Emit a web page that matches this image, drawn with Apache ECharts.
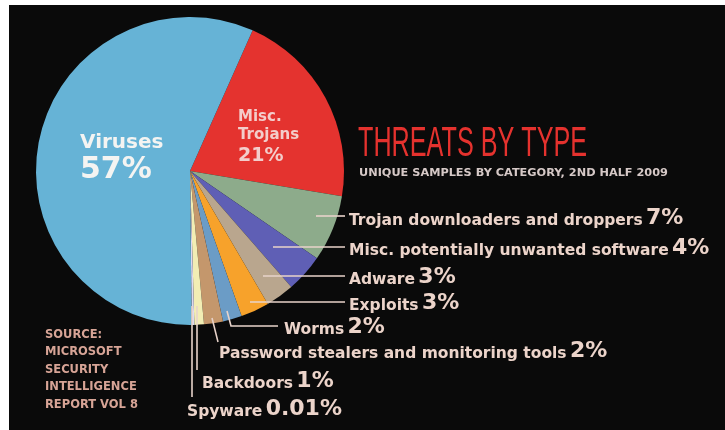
<!DOCTYPE html>
<html>
<head>
<meta charset="utf-8">
<script src="https://cdn.jsdelivr.net/npm/echarts@6/dist/echarts.min.js"></script>
<style>
html,body{margin:0;padding:0;background:#ffffff;}
#chart{width:725px;height:430px;}
</style>
</head>
<body>
<div id="chart"></div>
<script>
// ---- data ----
const categories = ['Misc. Trojans', 'Trojan downloaders and droppers', 'Misc. potentially unwanted software',
  'Adware', 'Exploits', 'Worms', 'Password stealers and monitoring tools', 'Backdoors', 'Spyware', 'Viruses'];
const shares = [21, 7, 4, 3, 3, 2, 2, 1, 0.01, 57];
const titleText = 'THREATS BY TYPE';
const subtitleText = 'UNIQUE SAMPLES BY CATEGORY, 2ND HALF 2009';
const sourceLines = ['SOURCE:', 'MICROSOFT', 'SECURITY', 'INTELLIGENCE', 'REPORT VOL 8'];

// ---- styles / layout ----
const sliceColors = ['#e4332f', '#8dab8b', '#5f5fb5', '#b9a68e', '#f7a22b', '#6b9cc6', '#c4976c', '#f2edb4', '#ddd9ef', '#66b3d6'];
const FONT = 'DejaVu Sans';
const labelColor = '#ecd4ca';
const lineColor = '#e8d3ca';
// label anchor [x, y] and leader line points for the outside labels (annotation layout)
const spots = {
  1: { x: 349, y: 216, line: [[316, 216], [345, 216]] },
  2: { x: 349, y: 246, line: [[273, 247], [345, 247]] },
  3: { x: 349, y: 275, line: [[263, 276], [345, 276]] },
  4: { x: 349, y: 301, line: [[250, 302], [345, 302]] },
  5: { x: 284, y: 325, line: [[227, 311], [231, 326], [278, 326]] },
  6: { x: 219, y: 349, line: [[212, 318], [218, 342]] },
  7: { x: 202, y: 379, line: [[197, 306], [197, 370]] },
  8: { x: 187, y: 407, line: [[192, 306], [192, 397]] },
  0: { x: 238, y: 138, inside: true },
  9: { x: 80, y: 158, inside: true }
};

function buildData(forLabels) {
  return categories.map((name, i) => {
    const item = { name: name, value: shares[i],
      itemStyle: { color: forLabels ? 'rgba(0,0,0,0)' : sliceColors[i] } };
    if (!forLabels) return item;
    if (i === 0) {
      item.label = {
        position: 'inside',
        formatter: function () { return '{a|Misc.}\n{a|Trojans}\n{b|' + shares[0] + '%}'; },
        rich: {
          a: { fontFamily: FONT, fontWeight: 'bold', fontSize: 15, color: '#f3cdcb', lineHeight: 18 },
          b: { fontFamily: FONT, fontWeight: 'bold', fontSize: 19, color: '#f3cdcb', lineHeight: 24 }
        }
      };
      item.labelLine = { show: false };
    } else if (i === 9) {
      item.label = {
        position: 'inside',
        formatter: function (p) { return '{a|' + p.name + '}\n{b|' + p.value + '%}'; },
        rich: {
          a: { fontFamily: FONT, fontWeight: 'bold', fontSize: 20, color: '#f4f4f2', lineHeight: 24 },
          b: { fontFamily: FONT, fontWeight: 'bold', fontSize: 30, color: '#f4f4f2', lineHeight: 30 }
        }
      };
      item.labelLine = { show: false };
    }
    return item;
  });
}

const sourceGraphics = sourceLines.map((t, i) => ({
  type: 'text', x: 45, y: 335 + i * 17.5,
  style: { text: t, fill: '#d7a496', font: 'bold 11.5px "' + FONT + '"', textAlign: 'left', textVerticalAlign: 'middle' }
}));

const pieBase = {
  type: 'pie',
  center: [190, 171],
  radius: 154,
  startAngle: 66,
  clockwise: true,
  minAngle: 1,
  avoidLabelOverlap: false,
  silent: true,
  itemStyle: { borderWidth: 0 }
};

const chart = echarts.init(document.getElementById('chart'), null, { renderer: 'canvas' });
chart.setOption({
  backgroundColor: '#0a0a0a',
  animation: false,
  graphic: [
    { type: 'rect', shape: { x: 0, y: 0, width: 725, height: 5 }, style: { fill: '#ffffff' }, z: 100 },
    { type: 'rect', shape: { x: 0, y: 0, width: 9, height: 430 }, style: { fill: '#ffffff' }, z: 100 },
    { type: 'text', x: 358, y: 144, scaleX: 0.6,
      style: { text: titleText, fill: '#e5322e', font: '42px "Liberation Sans"', textAlign: 'left', textVerticalAlign: 'middle' } },
    { type: 'text', x: 359, y: 173,
      style: { text: subtitleText, fill: '#d6c9c7', font: 'bold 11.3px "' + FONT + '"', textAlign: 'left', textVerticalAlign: 'middle' } }
  ].concat(sourceGraphics),
  series: [
    Object.assign({}, pieBase, {
      z: 2,
      label: { show: false },
      labelLine: { show: false },
      data: buildData(false)
    }),
    Object.assign({}, pieBase, {
      z: 5,
      label: {
        show: true,
        position: 'outside',
        formatter: function (p) { return '{n|' + p.name + '} {p|' + p.value + '%}'; },
        rich: {
          n: { fontFamily: FONT, fontWeight: 'bold', fontSize: 15.5, color: labelColor, verticalAlign: 'bottom', lineHeight: 22 },
          p: { fontFamily: FONT, fontWeight: 'bold', fontSize: 22, color: labelColor, verticalAlign: 'bottom', lineHeight: 26 }
        }
      },
      labelLine: { show: true, lineStyle: { color: lineColor, width: 1.6 } },
      labelLayout: function (params) {
        const s = spots[params.dataIndex];
        if (!s) return {};
        if (s.inside) return { x: s.x, y: s.y, align: 'left', verticalAlign: 'middle' };
        return { x: s.x, y: s.y, align: 'left', verticalAlign: 'middle', labelLinePoints: s.line };
      },
      data: buildData(true)
    })
  ]
});
</script>
</body>
</html>
